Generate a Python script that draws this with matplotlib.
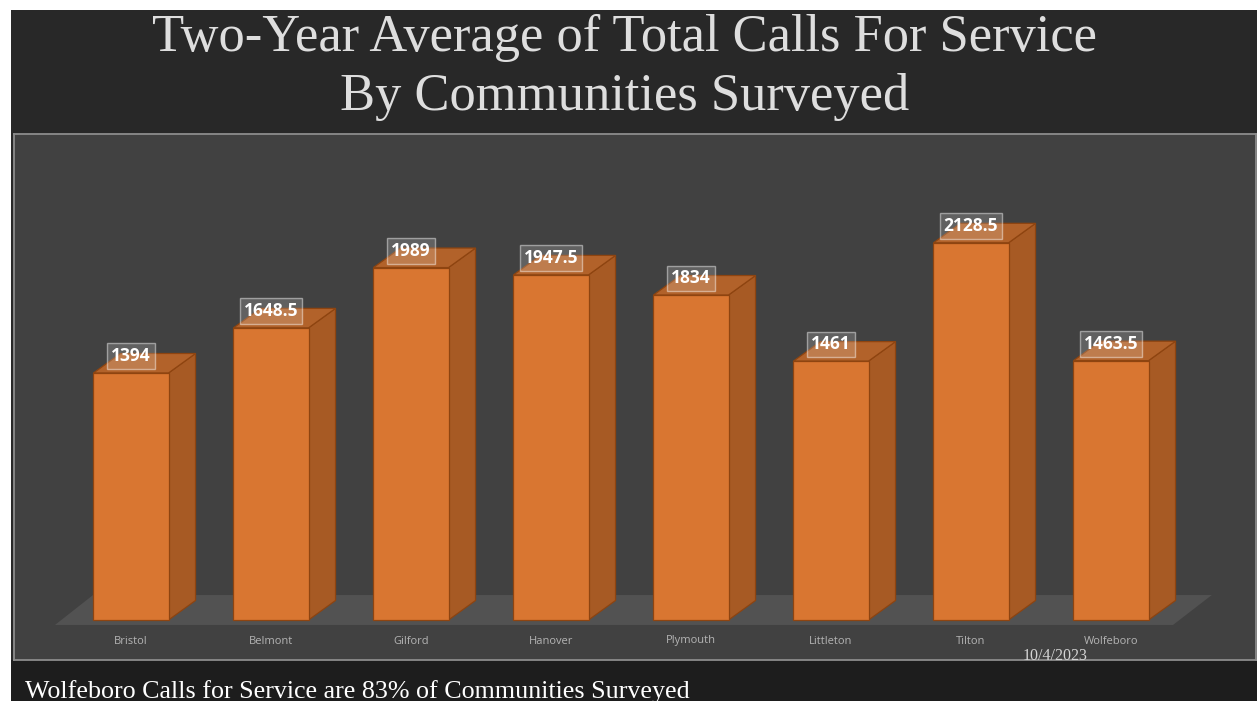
import matplotlib.pyplot as plt
from matplotlib.patches import Rectangle, Polygon

# data
towns = ['Bristol', 'Belmont', 'Gilford', 'Hanover', 'Plymouth', 'Littleton', 'Tilton', 'Wolfeboro']
avg_calls = [1394, 1648.5, 1989, 1947.5, 1834, 1461, 2128.5, 1463.5]
value_labels = ['1394', '1648.5', '1989', '1947.5', '1834', '1461', '2128.5', '1463.5']

title_lines = ['Two-Year Average of Total Calls For Service', 'By Communities Surveyed']
footer = 'Wolfeboro Calls for Service are 83% of Communities Surveyed'
date_text = '10/4/2023'

W, H = 1257, 701
fig = plt.figure(figsize=(W / 100, H / 100), dpi=100, facecolor='white')

# slide background (dark), leaving the thin white margin top / left
bg = fig.add_axes([0, 0, 1, 1], zorder=-5)
bg.set_xlim(0, W)
bg.set_ylim(H, 0)
bg.axis('off')
bg.add_patch(Rectangle((11, 10), W - 11, H - 10, facecolor='#282828', edgecolor='none'))
bg.add_patch(Rectangle((11, 660), W - 11, H - 660, facecolor='#1d1d1d', edgecolor='none'))

# chart area
left, right, top, bottom = 14, 1256, 134, 660
ax = fig.add_axes([left / W, (H - bottom) / H, (right - left) / W, (bottom - top) / H])
ax.set_facecolor('#414141')
for s in ax.spines.values():
    s.set_color('#8c8c8c')
    s.set_linewidth(1.3)
ax.set_xticks([])
ax.set_yticks([])

px_x = 140.0      # pixels per category
px_y = 0.1772     # pixels per call
xmin = -(131 - left) / px_x
ax.set_xlim(xmin, xmin + (right - left) / px_x)
ymin = -(bottom - 620) / px_y
ax.set_ylim(ymin, ymin + (bottom - top) / px_y)

# floor
floor = Polygon([(-0.543, -28), (7.443, -28), (7.72, 141), (-0.271, 141)],
                closed=True, facecolor='#525252', edgecolor='none', zorder=1)
ax.add_patch(floor)

bw = 0.536
dx = 27 / px_x
dy = 19.5 / px_y
front_c = '#d97631'
side_c = '#a75a24'
top_c = '#b2622a'
edge_c = '#8e4410'

xs = list(range(len(towns)))
ax.bar(xs, avg_calls, width=bw, color=front_c, edgecolor=edge_c, linewidth=0.9, zorder=4)
for x, v in zip(xs, avg_calls):
    side = Polygon([(x + bw / 2, 0), (x + bw / 2 + dx, dy), (x + bw / 2 + dx, v + dy), (x + bw / 2, v)],
                   closed=True, facecolor=side_c, edgecolor=edge_c, linewidth=0.9, zorder=3)
    topf = Polygon([(x - bw / 2, v), (x + bw / 2, v), (x + bw / 2 + dx, v + dy), (x - bw / 2 + dx, v + dy)],
                   closed=True, facecolor=top_c, edgecolor=edge_c, linewidth=0.9, zorder=3)
    ax.add_patch(side)
    ax.add_patch(topf)

for x, v, lab in zip(xs, avg_calls, value_labels):
    ax.annotate(lab, (x, v), xytext=(0, 12), textcoords='offset points',
                ha='center', va='center', color='white', fontsize=12.5, fontweight='bold',
                family='Open Sans', zorder=6,
                bbox=dict(boxstyle='square,pad=0.22', facecolor=(1, 1, 1, 0.17),
                          edgecolor=(1, 1, 1, 0.45), linewidth=1))

for x, name in zip(xs, towns):
    ax.text(x, -(641 - 620) / px_y, name, ha='center', va='center',
            color='#b4b4b4', fontsize=8, family='Open Sans')

# slide texts
fig.text(625 / W, 1 - 38 / H, title_lines[0], ha='center', va='center',
         color='#dedede', fontsize=37.8, family='Liberation Serif')
fig.text(625 / W, 1 - 97 / H, title_lines[1], ha='center', va='center',
         color='#dedede', fontsize=37.8, family='Liberation Serif')
fig.text(25 / W, 1 - 698 / H, footer, ha='left', va='baseline',
         color='white', fontsize=18.7, family='Liberation Serif')
fig.text(1055 / W, 1 - 656 / H, date_text, ha='center', va='center',
         color='#d4d4d4', fontsize=11.5, family='Liberation Serif')

fig.savefig('out.png', dpi=100, facecolor=fig.get_facecolor())
